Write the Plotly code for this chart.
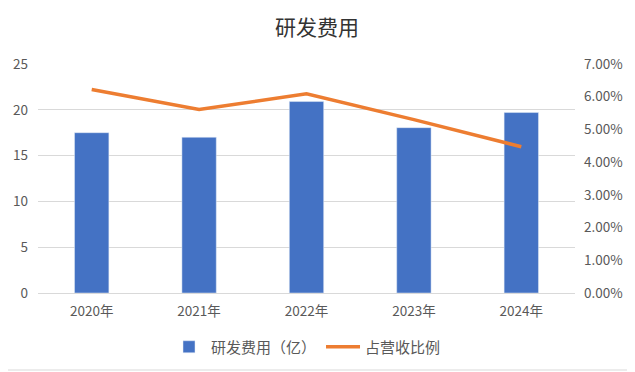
import plotly.graph_objects as go

years = ["2020年", "2021年", "2022年", "2023年", "2024年"]
rd_expense = [17.5, 17.0, 20.9, 18.05, 19.7]
revenue_ratio = [0.0622, 0.0561, 0.0609, 0.0530, 0.0447]

# the page body adds an 8px offset, so the figure is drawn 8px smaller
OFF = 8
W, H = 635 - OFF, 372 - OFF
ml, mr, mt, mb = 38 - OFF, 60, 64 - OFF, 79
font_cjk = "Noto Sans CJK SC, Microsoft YaHei, sans-serif"
gray = "#595959"

fig = go.Figure()
fig.add_trace(go.Bar(x=years, y=rd_expense, name="研发费用（亿）",
                     marker_color="#4472C4", width=0.32, yaxis="y"))
fig.add_trace(go.Scatter(x=years, y=revenue_ratio, name="占营收比例", mode="lines",
                         line=dict(color="#ED7D31", width=3.5), yaxis="y2"))

pw = W - ml - mr
ph = H - mt - mb
fig.add_shape(type="rect", xref="paper", yref="paper",
              x0=(-OFF + 2 - ml) / pw, x1=(W - 2 - ml) / pw,
              y0=-(mb - 2) / ph, y1=(H - mb + OFF - 2) / ph,
              line=dict(color="#D9D9D9", width=1))

fig.update_layout(
    width=W, height=H,
    margin=dict(l=ml, r=mr, t=mt, b=mb, autoexpand=False),
    plot_bgcolor="white", paper_bgcolor="white",
    font=dict(family=font_cjk, color=gray, size=13),
    title=dict(text="研发费用", x=(317 - OFF) / W, xref="container", xanchor="center",
               y=1 - (28 - OFF) / H, yanchor="middle",
               font=dict(size=21, color="#333333", family=font_cjk)),
    xaxis=dict(showgrid=False, showline=True, linecolor="#D9D9D9", linewidth=1,
               ticks="", ticklabelstandoff=6, tickfont=dict(size=13.5, color=gray)),
    yaxis=dict(range=[0, 25], dtick=5, showgrid=True, gridcolor="#D9D9D9",
               gridwidth=1, zeroline=False, showline=False, ticks="",
               ticklabelstandoff=9, tickfont=dict(size=13.5, color=gray)),
    yaxis2=dict(range=[0, 0.07], dtick=0.01, tickformat=".2%", overlaying="y",
                side="right", showgrid=False, zeroline=False, showline=False,
                ticks="", ticklabelstandoff=8, tickfont=dict(size=13.5, color=gray)),
    legend=dict(orientation="h", x=0.5, xanchor="center", y=-(347 - 293) / ph,
                yanchor="middle", font=dict(size=15, color=gray), traceorder="normal",
                itemwidth=34),
    showlegend=True,
)

fig.write_html("out.html")
